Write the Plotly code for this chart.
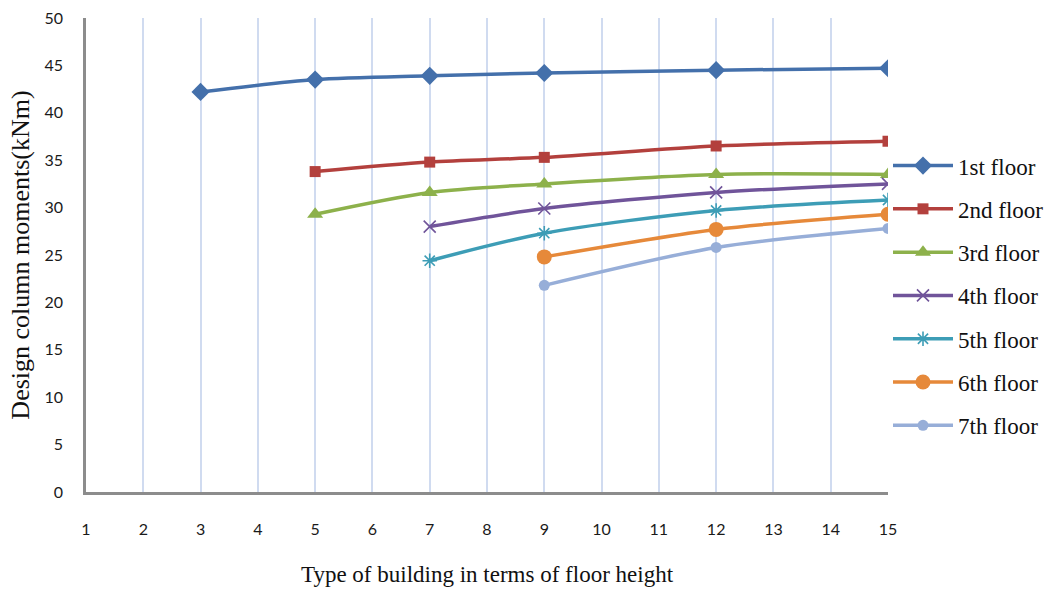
import plotly.graph_objects as go

# Building type (floor height) on the x axis
x_ticks = list(range(1, 16))
x_tick_labels = [str(v) for v in x_ticks]
y_ticks = list(range(0, 51, 5))

floor_names = ["1st floor", "2nd floor", "3rd floor", "4th floor",
               "5th floor", "6th floor", "7th floor"]

x_1st = [3, 5, 7, 9, 12, 15]
y_1st = [42.2, 43.5, 43.9, 44.2, 44.5, 44.7]

x_2nd = [5, 7, 9, 12, 15]
y_2nd = [33.8, 34.8, 35.3, 36.5, 37.0]

x_3rd = [5, 7, 9, 12, 15]
y_3rd = [29.3, 31.6, 32.5, 33.5, 33.5]

x_4th = [7, 9, 12, 15]
y_4th = [28.0, 29.9, 31.6, 32.5]

x_5th = [7, 9, 12, 15]
y_5th = [24.4, 27.3, 29.7, 30.8]

x_6th = [9, 12, 15]
y_6th = [24.8, 27.7, 29.3]

x_7th = [9, 12, 15]
y_7th = [21.8, 25.8, 27.8]

series_x = [x_1st, x_2nd, x_3rd, x_4th, x_5th, x_6th, x_7th]
series_y = [y_1st, y_2nd, y_3rd, y_4th, y_5th, y_6th, y_7th]

colors = ["#4470AB", "#B3403D", "#8DB14B", "#70549A", "#3D9DB6", "#E6893A", "#97AED8"]
symbols = ["diamond", "square", "triangle-up", "x-thin", "asterisk", "circle", "circle"]
sizes = [14, 11, 14, 12, 12, 15, 11]

fig = go.Figure()
for i, name in enumerate(floor_names):
    open_marker = symbols[i] in ("x-thin", "asterisk")
    fig.add_trace(go.Scatter(
        x=series_x[i], y=series_y[i], name=name,
        mode="lines+markers",
        line=dict(color=colors[i], width=3.5, shape="spline", smoothing=0.8),
        marker=dict(symbol=symbols[i], size=sizes[i], color=colors[i],
                    line=dict(color=colors[i], width=1.6 if open_marker else 0)),
        legendgroup=name,
    ))

serif = "Liberation Serif"
fig.update_layout(
    width=1049, height=591,
    margin=dict(l=86, r=161, t=18, b=99, autoexpand=False),
    paper_bgcolor="white", plot_bgcolor="white",
    showlegend=True,
    legend=dict(x=1.0, y=0.734, xanchor="left", yanchor="top",
                font=dict(family=serif, size=23, color="#111111"),
                tracegroupgap=10.4, itemwidth=60,
                bgcolor="rgba(0,0,0,0)"),
    xaxis=dict(
        range=[1, 15], tickmode="array", tickvals=x_ticks, ticktext=x_tick_labels,
        showgrid=True, gridcolor="#D0DBF0", gridwidth=1.5,
        showline=True, linecolor="#8C8C8C", linewidth=2.5,
        zeroline=False, ticks="", ticklabelstandoff=21,
        tickfont=dict(family="Lato", size=16, color="#1A1A1A"),
        title=dict(text="Type of building in terms of floor height",
                   font=dict(family=serif, size=23, color="#111111"), standoff=29),
    ),
    yaxis=dict(
        range=[0, 50], tickmode="array", tickvals=y_ticks,
        showgrid=False, showline=True, linecolor="#8C8C8C", linewidth=2.5,
        zeroline=False, ticks="", ticklabelstandoff=17,
        tickfont=dict(family="Lato", size=16, color="#1A1A1A"),
        title=dict(text="Design column moments(kNm)",
                   font=dict(family=serif, size=26, color="#111111"), standoff=8),
    ),
)

fig.write_html("out.html")
